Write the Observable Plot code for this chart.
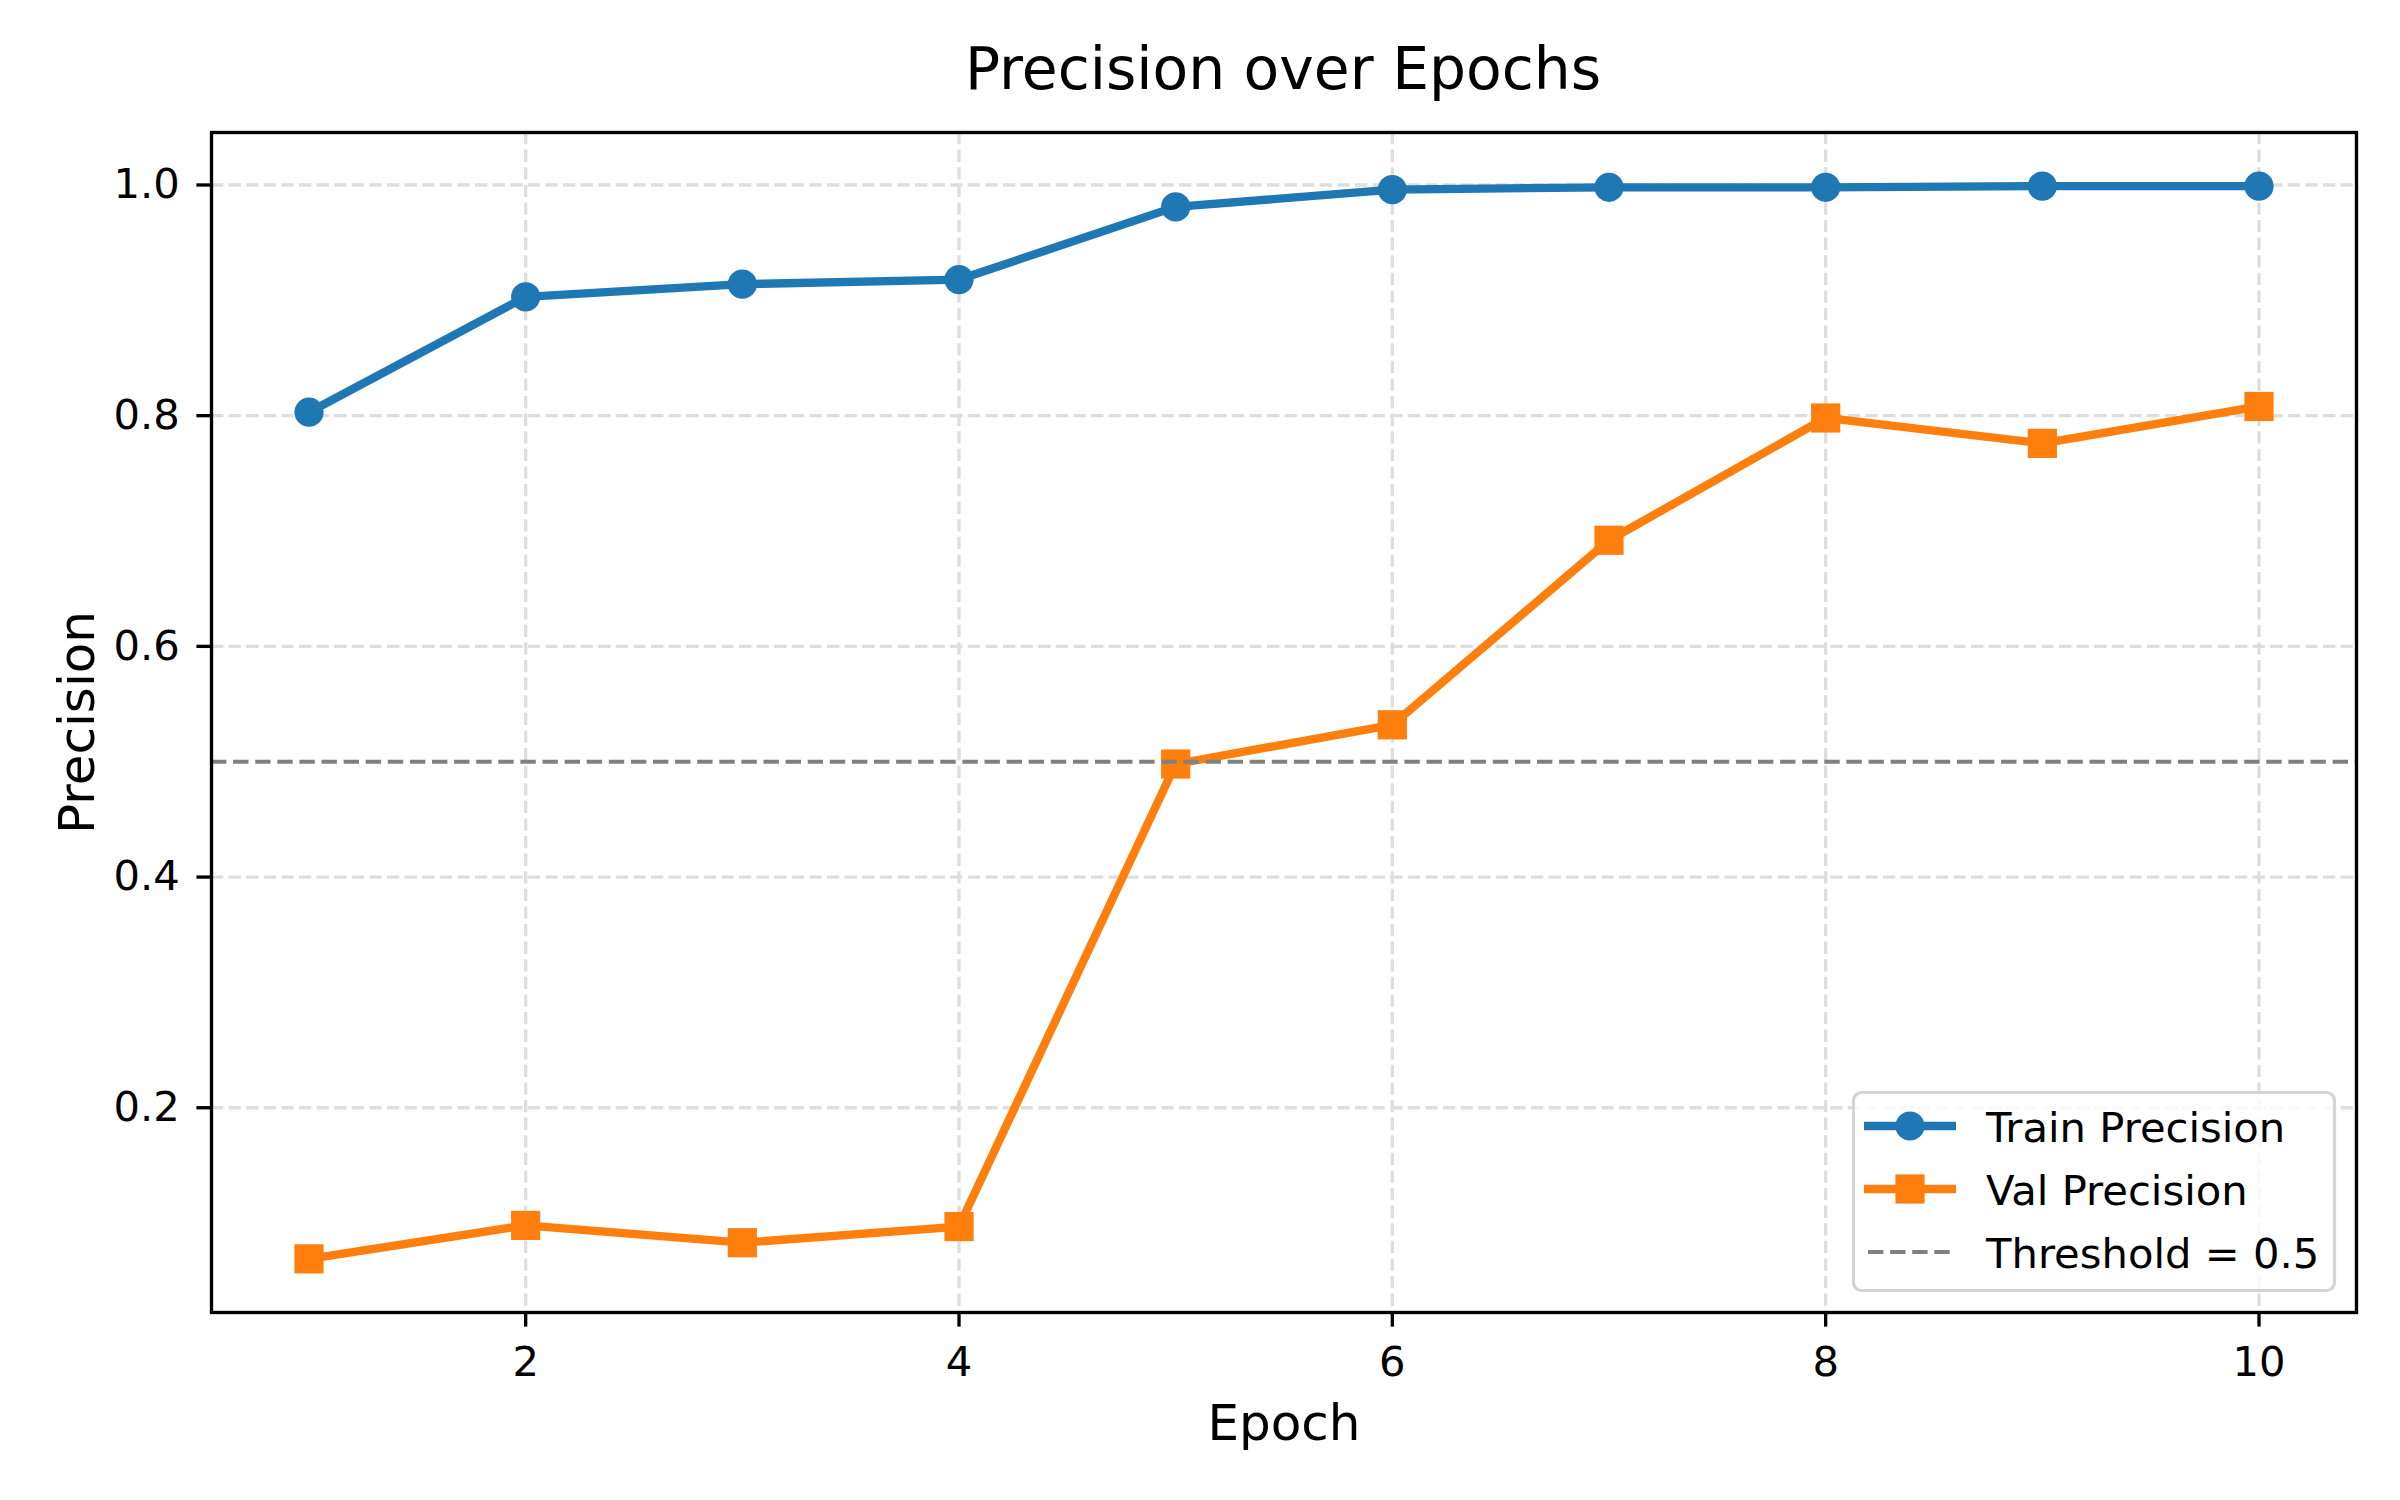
<!DOCTYPE html>
<html>
<head>
<meta charset="utf-8">
<script src="https://cdn.jsdelivr.net/npm/d3@7"></script>
<script src="https://cdn.jsdelivr.net/npm/@observablehq/plot@0.6"></script>
<style>
  html, body { margin: 0; padding: 0; background: #ffffff; }
  body { font-family: "DejaVu Sans", sans-serif; }
  #wrap { position: relative; width: 2400px; height: 1500px; }
  #title { height: 110px; box-sizing: border-box; padding-top: 35px; line-height: 68px;
           font-size: 58.3px; text-align: center; color: #000; white-space: nowrap;
           padding-left: 166px; }
  #legend { position: absolute; left: 1852px; top: 1091px; }
</style>
</head>
<body>
<div id="wrap">
  <div id="title">Precision over Epochs</div>
  <div id="chart"></div>
  <div id="legend"></div>
</div>
<script>
// ---- data ----
const epochs = [1, 2, 3, 4, 5, 6, 7, 8, 9, 10];
const trainPrecision = [0.803, 0.903, 0.914, 0.918, 0.981, 0.996, 0.998, 0.998, 0.999, 0.999];
const valPrecision = [0.069, 0.098, 0.083, 0.097, 0.498, 0.532, 0.692, 0.798, 0.776, 0.808];
const threshold = 0.5;
const xTicks = [2, 4, 6, 8, 10];
const yTicks = [0.2, 0.4, 0.6, 0.8, 1.0];
const seriesNames = ["Train Precision", "Val Precision", "Threshold = 0.5"];
const colors = ["#1f77b4", "#ff7f0e", "#808080"];

const train = epochs.map((e, i) => ({epoch: e, value: trainPrecision[i]}));
const val = epochs.map((e, i) => ({epoch: e, value: valPrecision[i]}));

// matplotlib-style 5% margins
function padded(ext) { const d = ext[1] - ext[0]; return [ext[0] - 0.05 * d, ext[1] + 0.05 * d]; }
const xDomain = padded(d3.extent(epochs));
const yDomain = padded(d3.extent([...trainPrecision, ...valPrecision]));

const FS = 41.7;
const lw = 8.33;
const chart = Plot.plot({
  width: 2400,
  height: 1390,
  marginLeft: 211,
  marginRight: 44,
  marginTop: 22,
  marginBottom: 188,
  style: {fontFamily: "DejaVu Sans", fontSize: FS + "px", color: "#000", background: "#fff"},
  x: {domain: xDomain},
  y: {domain: yDomain},
  marks: [
    Plot.gridX(xTicks, {stroke: "#dedede", strokeOpacity: 1, strokeWidth: 3.33, strokeDasharray: "12.3,5.3"}),
    Plot.gridY(yTicks, {stroke: "#dedede", strokeOpacity: 1, strokeWidth: 3.33, strokeDasharray: "12.3,5.3"}),
    Plot.line(train, {x: "epoch", y: "value", stroke: colors[0], strokeWidth: lw}),
    Plot.dot(train, {x: "epoch", y: "value", fill: colors[0], stroke: null, r: 14.6, symbol: "circle"}),
    Plot.line(val, {x: "epoch", y: "value", stroke: colors[1], strokeWidth: lw}),
    Plot.dot(val, {x: "epoch", y: "value", fill: colors[1], stroke: null, r: 29.2 / Math.sqrt(Math.PI), symbol: "square"}),
    Plot.ruleY([threshold], {stroke: colors[2], strokeWidth: 4.17, strokeDasharray: "15.4,6.7"}),
    Plot.frame({stroke: "#000", strokeWidth: 3.33}),
    Plot.axisX(xTicks, {tickSize: 14.6, tickPadding: 19, fontSize: FS, strokeWidth: 3.33, label: null, tickFormat: d => String(d)}),
    Plot.axisY(yTicks, {tickSize: 14.6, tickPadding: 17, fontSize: FS, strokeWidth: 3.33, label: null, tickFormat: d3.format(".1f")}),
    Plot.text(["Epoch"], {frameAnchor: "bottom", dy: 111, fontSize: 50, lineAnchor: "middle", textAnchor: "middle", fill: "#000"}),
    Plot.text(["Precision"], {frameAnchor: "left", dx: -134, rotate: -90, fontSize: 50, lineAnchor: "middle", textAnchor: "middle", fill: "#000"})
  ]
});
document.getElementById("chart").appendChild(chart);

// ---- legend ----
const lg = d3.select("#legend").append("svg").attr("width", 486).attr("height", 204)
  .style("font-family", "DejaVu Sans").style("overflow", "visible");
lg.append("rect").attr("x", 1.5).attr("y", 1.5).attr("width", 481).attr("height", 198)
  .attr("rx", 8).attr("ry", 8).attr("fill", "#fff").attr("fill-opacity", 0.8)
  .attr("stroke", "#d4d4d4").attr("stroke-width", 3.2);
const rowY = [35, 98, 161];
seriesNames.forEach((name, i) => {
  const g = lg.append("g");
  if (i < 2) {
    g.append("line").attr("x1", 12).attr("x2", 104).attr("y1", rowY[i]).attr("y2", rowY[i])
      .attr("stroke", colors[i]).attr("stroke-width", lw);
    if (i === 0) g.append("circle").attr("cx", 58).attr("cy", rowY[i]).attr("r", 14.6).attr("fill", colors[i]);
    else g.append("rect").attr("x", 58 - 14.6).attr("y", rowY[i] - 14.6).attr("width", 29.2).attr("height", 29.2).attr("fill", colors[i]);
  } else {
    g.append("line").attr("x1", 16).attr("x2", 99).attr("y1", rowY[i]).attr("y2", rowY[i])
      .attr("stroke", colors[i]).attr("stroke-width", 4.17).attr("stroke-dasharray", "15.4,6.7");
  }
  g.append("text").attr("x", 134).attr("y", rowY[i] + 15.5).attr("font-size", FS).attr("fill", "#000").text(name);
});
</script>
</body>
</html>
